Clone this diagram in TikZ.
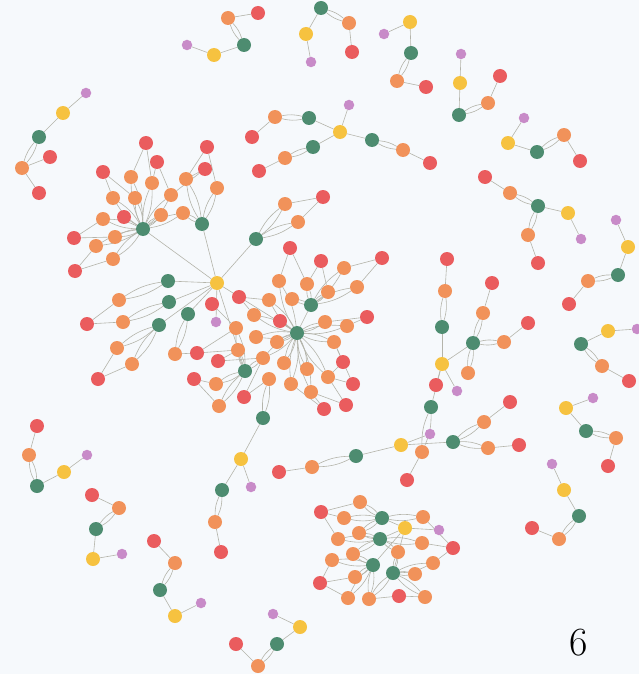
\documentclass[tikz,border=0pt]{standalone}
\usetikzlibrary{backgrounds}
\pgfdeclarelayer{bglayer}
\pgfdeclarelayer{edgelayer}
\pgfsetlayers{bglayer,edgelayer,main}
\definecolor{cR}{HTML}{EA5C5E}
\definecolor{cO}{HTML}{F1925A}
\definecolor{cG}{HTML}{4D8C70}
\definecolor{cY}{HTML}{F6C240}
\definecolor{cP}{HTML}{C88BC8}
\definecolor{cE}{HTML}{B4B4AA}
\definecolor{cBG}{HTML}{F6F9FC}
\tikzset{
  nbase/.style={circle,inner sep=0pt,minimum size=14pt},
  nR/.style={nbase,fill=cR},
  nO/.style={nbase,fill=cO},
  nG/.style={nbase,fill=cG},
  nY/.style={nbase,fill=cY},
  nP/.style={circle,inner sep=0pt,minimum size=10.5pt,fill=cP},
  edge/.style={draw=cE,line width=0.6pt},
}
\begin{document}
\begin{tikzpicture}[x=1pt,y=-1pt]
\begin{pgfonlayer}{bglayer}
\fill[cBG] (0,0) rectangle (639,674);
\end{pgfonlayer}
\useasboundingbox (0,0) rectangle (639,674);
% red nodes
\foreach \n/\px/\py in {a2/258/13,b5/352/52,cc5/426/87,d5/500/76,e5/430/163,e8/252/137,e11/259/171,f5/580/161,
 g4/50/157,g6/39/193,h1/146/143,h2/207/147,h3/157/162,h4/103/172,h5/205/169,h14/124/217,h18/74/238,h22/75/271,
 k3/323/197,l6/87/324,l10/98/379,r1/321/261,r2/382/258,r3/290/248,r4/239/297,r5/212/304,r6/367/317,r7/280/321,
 r8/197/353,r9/218/361,r10/343/362,r11/194/379,r12/353/384,r13/244/397,r14/324/409,r15/346/405,s5/221/552,
 t1/279/472,t7/436/385,t9/407/480,t12/510/402,t14/519/445,v1/447/259,v5/492/283,v9/528/323,w1/485/177,w7/538/263,
 x5/569/304,y5/629/381,z5/608/466,u5/532/528,q1/37/426,n1/92/495,j1/154/541,i4/236/644,bb2/321/512,bb12/453/548,
 bb20/320/583,bb24/399/596}
  \node[nR] (\n) at (\px,\py) {};
% orange nodes
\foreach \n/\px/\py in {a1/228/18,b4/349/23,cc4/397/81,d4/488/103,e4/403/150,e7/275/117,e10/285/158,f4/564/135,g5/22/168,
 h6/131/177,h7/152/183,h8/186/179,h9/217/188,h10/113/198,h11/135/198,h12/171/195,h13/103/219,h15/161/215,h16/183/213,
 h19/115/237,h20/96/246,h21/113/259,k2/285/204,k4/298/222,l5/119/300,l7/123/322,l8/117/348,l9/132/364,l11/175/354,
 o1/344/268,o2/279/281,o3/307/284,o4/357/287,o5/328/292,o6/269/300,o7/292/299,o8/254/315,o9/325/322,o10/347/326,
 o11/236/328,o12/256/337,o13/277/342,o14/334/342,o15/238/350,o16/263/358,o17/284/363,o18/307/369,o19/328/377,
 o20/269/379,o21/216/384,o22/291/384,o23/311/392,o24/219/406,s4/215/522,t2/312/467,t8/422/452,t11/484/422,t13/488/448,
 v2/445/291,v6/483/313,v8/504/342,v10/468/373,w2/510/193,w6/528/235,x4/588/281,y4/602/366,z4/616/438,u4/559/539,
 q2/29/455,n2/119/508,j2/175/563,i5/258/666,bb1/360/502,bb3/344/518,bb5/423/517,bb8/359/533,bb9/338/539,bb11/422/543,
 bb13/353/554,bb14/398/552,bb15/332/560,bb16/433/563,bb19/415/574,bb21/355/577,bb22/348/598,bb23/369/599,bb25/425/597}
  \node[nO] (\n) at (\px,\py) {};
% green nodes
\foreach \n/\px/\py in {a3/244/45,b1/321/8,cc3/411/53,d3/459/115,e3/372/140,e6/309/118,e9/313/147,f3/537/152,g3/39/137,
 h0/143/229,h17/202/224,k1/256/239,l1/168/281,l2/169/302,l3/159/325,l4/188/314,m1/297/333,m2/311/305,m3/245/371,
 m4/263/418,s3/222/490,t3/356/456,t6/431/407,t10/453/442,v3/442/327,v7/473/343,w3/538/206,x3/618/275,y3/581/344,
 z3/586/431,u3/579/516,q3/37/486,n3/96/529,j3/160/590,i3/277/644,bb4/382/518,bb10/380/539,bb17/373/565,bb18/393/573}
  \node[nG] (\n) at (\px,\py) {};
% yellow nodes
\foreach \n/\px/\py in {a4/214/55,b2/306/34,cc1/410/22,d2/460/83,e2/340/132,f2/508/143,g2/63/113,m0/217/283,s1/241/459,
 t4/401/445,v4/442/364,w4/568/213,x2/628/247,y1/608/331,z2/566/408,u2/564/490,q4/64/472,n4/93/559,j4/175/616,i2/300/627,
 bb6/405/528}
  \node[nY] (\n) at (\px,\py) {};
% purple nodes
\foreach \n/\px/\py in {a5/187/45,b3/311/62,cc2/384/34,d1/461/54,e1/349/105,f1/524/118,g1/86/93,cp/216/322,s2/251/487,
 t5/430/434,v11/457/391,w5/581/239,x1/616/220,y2/637/329,z1/593/398,u1/552/464,q5/87/455,n5/122/554,j5/201/603,
 i1/273/614,bb7/439/530}
  \node[nP] (\n) at (\px,\py) {};
\node[font=\fontsize{40}{44}\selectfont,inner sep=0pt] (six) at (579,643) {6};
\begin{pgfonlayer}{edgelayer}
% single edges
\foreach \a/\b in {a5/a4,a4/a3,a1/a2,b2/b1,b2/b3,b4/b5,cc1/cc2,cc1/cc3,cc4/cc5,d1/d2,d2/d3,d4/d5,
 e1/e2,e2/e3,e2/e6,e2/e9,e4/e5,e7/e8,e10/e11,f1/f2,f2/f3,f4/f5,g1/g2,g2/g3,g5/g4,g5/g6,
 h0/h14,h1/h6,h1/h7,h3/h7,h3/h12,h4/h10,h4/h11,h2/h8,h2/h9,h5/h8,h5/h12,h18/h13,h18/h19,h22/h21,h22/h20,
 m0/h0,m0/h17,m0/k1,m0/l1,m0/l2,m0/l3,m0/l4,m0/cp,m0/m1,m0/m3,
 k2/k3,k4/k3,l5/l6,l7/l6,l8/l10,l9/l10,l11/r8,
 m1/r7,m1/m2,r3/o2,r3/o3,r1/o3,r1/o5,r2/o1,r2/o4,r4/o6,r4/o8,r5/o11,r6/o9,r6/o10,r8/o11,r8/o15,r9/o15,r9/o16,
 r10/o14,r10/o19,r11/o21,r11/o24,r12/o19,r12/o14,r13/o20,r13/o16,r14/o22,r14/o23,r15/o23,r15/o19,
 m4/s1,s1/s2,s1/s3,s4/s5,t1/t2,t3/t4,t4/t5,t4/t10,t8/t9,t11/t12,t13/t14,
 v1/v2,v3/v4,v5/v6,v8/v9,v7/v4,v4/v11,v4/t6,v4/t7,
 w1/w2,w3/w4,w4/w5,w6/w7,x1/x2,x2/x3,x4/x5,y1/y2,y1/y3,y4/y5,z1/z2,z2/z3,z4/z5,u1/u2,u2/u3,u4/u5,
 q1/q2,q3/q4,q4/q5,n1/n2,n3/n4,n4/n5,j1/j2,j3/j4,j4/j5,i1/i2,i2/i3,i4/i5,
 bb6/bb7,bb6/bb4,bb6/bb10,bb6/bb17,bb6/bb18,bb2/bb1,bb2/bb3,bb2/bb9,bb12/bb5,bb12/bb11,bb12/bb16,
 bb20/bb15,bb20/bb21,bb20/bb22,bb24/bb23,bb24/bb25}
  \draw[edge] (\a) -- (\b);
% double edges
\foreach \a/\b in {a3/a1,b1/b4,cc3/cc4,d3/d4,e3/e4,e6/e7,e9/e10,f3/f4,g3/g5,
 h0/h6,h0/h7,h0/h10,h0/h11,h0/h12,h0/h13,h0/h15,h0/h16,h0/h19,h0/h20,h0/h21,h17/h8,h17/h9,h17/h16,
 k1/k2,k1/k4,l1/l5,l2/l7,l3/l8,l3/l9,l4/l11,
 m2/o1,m2/o3,m2/o4,m2/o5,m2/o7,
 m1/o2,m1/o6,m1/o8,m1/o9,m1/o10,m1/o12,m1/o13,m1/o14,m1/o16,m1/o17,m1/o18,m1/o19,m1/o22,m1/o23,
 m3/o11,m3/o15,m3/o21,m3/o24,m3/o16,m4/o20,
 s3/s4,t2/t3,t6/t8,t10/t11,t10/t13,v2/v3,v6/v7,v7/v8,v7/v10,
 w2/w3,w3/w6,x3/x4,y3/y4,z3/z4,u3/u4,q2/q3,n2/n3,j2/j3,i3/i5,
 bb4/bb1,bb4/bb3,bb4/bb5,bb4/bb8,bb10/bb9,bb10/bb8,bb10/bb11,bb10/bb13,bb10/bb14,
 bb17/bb15,bb17/bb13,bb17/bb21,bb17/bb22,bb17/bb23,bb18/bb19,bb18/bb16,bb18/bb25,bb18/bb23,bb18/bb14}
  \draw[edge] (\a) to[bend left=12] (\b) (\a) to[bend right=12] (\b);
\end{pgfonlayer}
\end{tikzpicture}
\end{document}
